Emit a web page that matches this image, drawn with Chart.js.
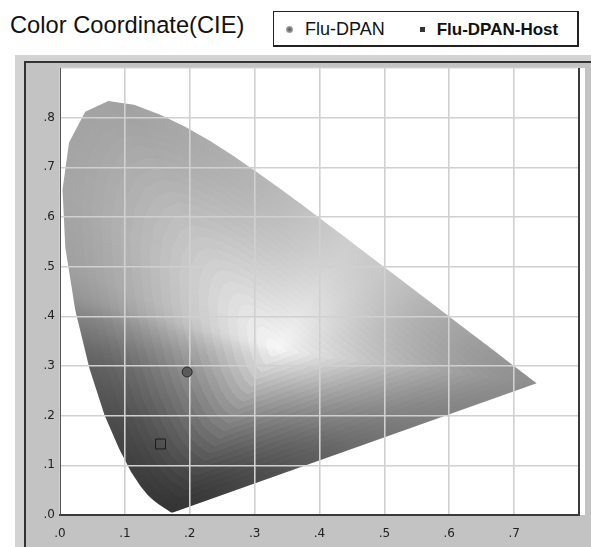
<!DOCTYPE html>
<html>
<head>
<meta charset="utf-8">
<script src="https://cdn.jsdelivr.net/npm/chart.js@4.4.0/dist/chart.umd.min.js"></script>
<style>
  body { margin:0; background:#fff; width:591px; height:547px; overflow:hidden; position:relative; font-family:"Liberation Sans", Arial, sans-serif; }
  #title { position:absolute; left:10px; top:12px; font-size:23.7px; line-height:26px; color:#111; }
  #legend { position:absolute; left:273px; top:11px; width:303px; height:31px; border:1px solid #222; border-right-width:2px; border-bottom-width:2px; background:#fff; display:flex; align-items:center; padding-top:2px; box-sizing:content-box; }
  #legend .item { display:flex; align-items:center; color:#111; }
  #legend .item span { font-size:18px; }
  #legend .item b { font-size:17px; font-weight:bold; }
  #legend .mk0 { width:7px; height:7px; border-radius:50%; background:radial-gradient(circle, #555 0%, #999 60%, #ddd 100%); margin:0 12px 0 12px; }
  #legend .mk1 { width:5px; height:5px; background:#333; margin:0 12px 0 35px; }
  #frame { position:absolute; left:15px; top:55px; width:576px; height:492px; background:#d3d3d3; }
  #panel { position:absolute; left:9px; top:6px; right:0; bottom:0; background:#c3c3c3; border-left:2px solid #333; border-top:2px solid #333; }
  #plotbg { position:absolute; left:45px; top:13px; width:525px; height:447px; background:#fff; }
  #chart { position:absolute; left:0; top:0; }
</style>
</head>
<body>
<div id="title">Color Coordinate(CIE)</div>
<div id="legend"></div>
<div id="frame">
  <div id="panel"></div>
  <div id="plotbg"></div>
  <canvas id="chart" width="576" height="492"></canvas>
</div>
<script>
// CIE 1931 spectral locus (380 nm .. 700 nm)
var locusX = [0.1741, 0.1727, 0.1714, 0.1689, 0.1644, 0.1566, 0.1510, 0.1440, 0.1355, 0.1241, 0.1096, 0.0913, 0.0687, 0.0454, 0.0235, 0.0082, 0.0039, 0.0139, 0.0389, 0.0743, 0.1142, 0.1547, 0.1929, 0.2296, 0.2658, 0.3016, 0.3373, 0.3731, 0.4087, 0.4441, 0.4788, 0.5125, 0.5448, 0.5752, 0.6029, 0.6270, 0.6658, 0.6915, 0.7079, 0.7190, 0.7300, 0.7347];
var locusY = [0.0050, 0.0048, 0.0051, 0.0069, 0.0109, 0.0177, 0.0227, 0.0297, 0.0399, 0.0578, 0.0868, 0.1327, 0.2007, 0.2950, 0.4127, 0.5384, 0.6548, 0.7502, 0.8120, 0.8338, 0.8262, 0.8059, 0.7816, 0.7543, 0.7243, 0.6923, 0.6589, 0.6245, 0.5896, 0.5547, 0.5202, 0.4866, 0.4544, 0.4242, 0.3965, 0.3725, 0.3340, 0.3083, 0.2920, 0.2809, 0.2700, 0.2653];

var seriesNames = ['Flu-DPAN', 'Flu-DPAN-Host'];
var dpanX = [0.196];
var dpanY = [0.288];
var hostX = [0.155];
var hostY = [0.143];

var xTickLabels = ['.0', '.1', '.2', '.3', '.4', '.5', '.6', '.7'];
var yTickLabels = ['.0', '.1', '.2', '.3', '.4', '.5', '.6', '.7', '.8'];

// grey shading of the horseshoe: white at the centre, darker toward the edge
var whiteX = 0.333, whiteY = 0.333;
var edgeTone = [[-180, 106], [-173, 96], [-150, 76], [-116, 52], [-98, 74], [-56, 110], [-23, 132], [-10, 142], [3, 158], [28, 186], [45, 200], [62, 206], [75, 198], [95, 180], [115, 162], [135, 166], [153, 160], [161, 150], [168, 130], [180, 106]];
var BINS = 1440;
var reach = [], edge = [];

function rayHit(ang) {
  var dx = Math.cos(ang), dy = Math.sin(ang), best = Infinity, n = locusX.length;
  for (var i = 0; i < n; i++) {
    var j = (i + 1) % n;
    var ax = locusX[i] - whiteX, ay = locusY[i] - whiteY;
    var ex = locusX[j] - locusX[i], ey = locusY[j] - locusY[i];
    var den = dx * ey - dy * ex;
    if (Math.abs(den) < 1e-12) continue;
    var s = (ax * ey - ay * ex) / den;
    var u = (ax * dy - ay * dx) / den;
    if (s > 0 && u >= -1e-9 && u <= 1 + 1e-9 && s < best) best = s;
  }
  return best;
}

function toneAt(deg) {
  for (var k = 0; k < edgeTone.length - 1; k++) {
    var a = edgeTone[k], b = edgeTone[k + 1];
    if (deg >= a[0] && deg <= b[0]) return a[1] + (b[1] - a[1]) * (deg - a[0]) / (b[0] - a[0]);
  }
  return 120;
}

for (var b = 0; b < BINS; b++) {
  var ang = -Math.PI + b * 2 * Math.PI / BINS;
  reach.push(rayHit(ang));
  edge.push(toneAt(ang * 180 / Math.PI));
}

function tone(dx, dy) {
  var b = Math.round((Math.atan2(dy, dx) + Math.PI) / (2 * Math.PI) * BINS) % BINS;
  var t = Math.hypot(dx, dy) / reach[b];
  if (t > 1) t = 1;
  t = Math.ceil(t * 22) / 22;
  var f = 1 - Math.pow(1 - t, 1.45);
  return Math.round(250 - (250 - edge[b]) * f);
}

var shadeCache = null;
function shadePattern(chart) {
  var area = chart.chartArea;
  if (!area || !chart.scales.x) return '#999';
  var key = [area.left, area.top, area.right, area.bottom].join();
  if (shadeCache && shadeCache.key === key) return shadeCache.pat;
  var xs = chart.scales.x, ys = chart.scales.y;
  var off = document.createElement('canvas');
  off.width = chart.width; off.height = chart.height;
  var octx = off.getContext('2d');
  var l = Math.floor(area.left), t = Math.floor(area.top);
  var w = Math.ceil(area.right) - l, h = Math.ceil(area.bottom) - t;
  var img = octx.createImageData(w, h);
  for (var py = 0; py < h; py++) {
    var vy = ys.getValueForPixel(t + py + 0.5) - whiteY;
    for (var px = 0; px < w; px++) {
      var vx = xs.getValueForPixel(l + px + 0.5) - whiteX;
      var g = tone(vx, vy), k = (py * w + px) * 4;
      img.data[k] = img.data[k + 1] = img.data[k + 2] = g;
      img.data[k + 3] = 255;
    }
  }
  octx.putImageData(img, l, t);
  var pat = chart.ctx.createPattern(off, 'no-repeat');
  shadeCache = { key: key, pat: pat };
  return pat;
}

function toPoints(xs, ys) {
  return xs.map(function (x, i) { return { x: x, y: ys[i] }; });
}

// right edge of the plot frame
var frameEdge = {
  id: 'frameEdge',
  afterDraw: function (chart) {
    var a = chart.chartArea, ctx = chart.ctx;
    ctx.save();
    ctx.strokeStyle = '#3a3a3a';
    ctx.lineWidth = 2;
    ctx.beginPath();
    ctx.moveTo(a.right, a.top);
    ctx.lineTo(a.right, a.bottom + 1);
    ctx.stroke();
    ctx.restore();
  }
};

var tickFont = { family: 'DejaVu Sans', size: 12 };

var chart = new Chart(document.getElementById('chart'), {
  type: 'scatter',
  data: {
    datasets: [
      {
        label: seriesNames[0],
        data: toPoints(dpanX, dpanY),
        pointStyle: 'circle',
        pointRadius: 5,
        backgroundColor: '#5a5a5a',
        borderColor: '#2a2a2a',
        borderWidth: 1,
        order: 1
      },
      {
        label: seriesNames[1],
        data: toPoints(hostX, hostY),
        pointStyle: 'rect',
        pointRadius: 7,
        backgroundColor: 'rgba(0,0,0,0)',
        borderColor: '#1a1a1a',
        borderWidth: 1,
        order: 2
      },
      {
        label: '',
        data: toPoints(locusX, locusY),
        showLine: true,
        fill: 'shape',
        tension: 0,
        pointRadius: 0,
        borderWidth: 1,
        borderColor: 'rgba(0,0,0,0)',
        backgroundColor: function (ctx) { return shadePattern(ctx.chart); },
        order: 3
      }
    ]
  },
  options: {
    responsive: false,
    animation: false,
    devicePixelRatio: 1,
    events: [],
    layout: { padding: { top: 13, right: 6, left: 0, bottom: 0 } },
    plugins: {
      legend: { display: false },
      tooltip: { enabled: false },
      filler: { drawTime: 'beforeDraw' }
    },
    scales: {
      x: {
        type: 'linear',
        min: 0,
        max: 0.8,
        ticks: {
          stepSize: 0.1,
          autoSkip: false,
          maxRotation: 0,
          padding: 12,
          font: tickFont,
          color: '#222',
          callback: function (v, i) { return xTickLabels[i] !== undefined ? xTickLabels[i] : ''; }
        },
        grid: { color: '#d0d0d0', lineWidth: 1.6, drawTicks: false },
        border: { color: '#3a3a3a', width: 2 },
        afterFit: function (s) { s.height = 32; }
      },
      y: {
        type: 'linear',
        min: 0,
        max: 0.9,
        ticks: {
          stepSize: 0.1,
          autoSkip: false,
          padding: 5,
          font: tickFont,
          color: '#222',
          callback: function (v, i) { return yTickLabels[i] !== undefined ? yTickLabels[i] : ''; }
        },
        grid: { color: '#d0d0d0', lineWidth: 1.6, drawTicks: false },
        border: { color: '#555', width: 1 },
        afterFit: function (s) { s.width = 45; }
      }
    }
  },
  plugins: [frameEdge]
});

// html legend built from the chart's own series
var legendBox = document.getElementById('legend');
chart.data.datasets.forEach(function (ds, i) {
  if (!ds.label) return;
  var item = document.createElement('div');
  item.className = 'item';
  var mk = document.createElement('span');
  mk.className = 'mk' + i;
  item.appendChild(mk);
  var txt = document.createElement(i === 1 ? 'b' : 'span');
  txt.textContent = ds.label;
  item.appendChild(txt);
  legendBox.appendChild(item);
});
</script>
</body>
</html>
